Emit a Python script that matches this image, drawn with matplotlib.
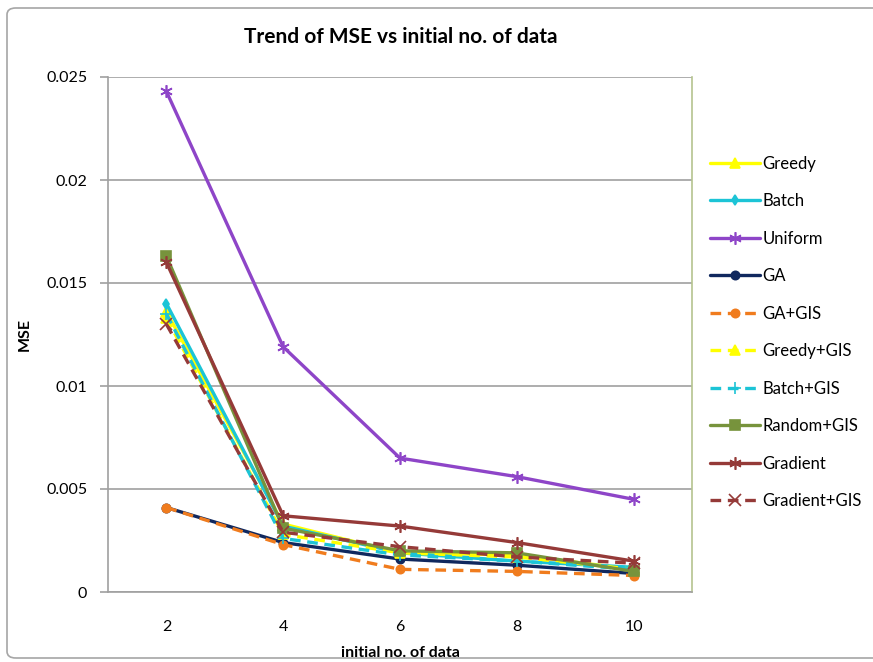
import matplotlib
matplotlib.use("Agg")
import matplotlib.pyplot as plt
from matplotlib.patches import FancyBboxPatch

plt.rcParams['font.family'] = ['Lato', 'DejaVu Sans']

# initial number of data points
x_values = [2, 4, 6, 8, 10]
x_ticklabels = ["2", "4", "6", "8", "10"]

# MSE per method
greedy = [0.0136, 0.0033, 0.0019, 0.0018, 0.0011]
batch = [0.0140, 0.0032, 0.0019, 0.0015, 0.0012]
uniform = [0.0243, 0.0119, 0.0065, 0.0056, 0.0045]
ga = [0.0041, 0.0024, 0.0016, 0.0013, 0.0009]
ga_gis = [0.0041, 0.0023, 0.0011, 0.0010, 0.0008]
greedy_gis = [0.0133, 0.0028, 0.0019, 0.0017, 0.0011]
batch_gis = [0.0135, 0.0026, 0.0018, 0.0015, 0.0011]
random_gis = [0.0163, 0.0031, 0.0020, 0.0019, 0.0010]
gradient = [0.0160, 0.0037, 0.0032, 0.0024, 0.0015]
gradient_gis = [0.0130, 0.0029, 0.0022, 0.0017, 0.0014]

series = [
    ("Greedy", greedy, "#FFFF00", "-", "^"),
    ("Batch", batch, "#1CC4D6", "-", "d"),
    ("Uniform", uniform, "#8E45C8", "-", (6, 2, 0)),
    ("GA", ga, "#10285E", "-", "o"),
    ("GA+GIS", ga_gis, "#F07C1E", "--", "o"),
    ("Greedy+GIS", greedy_gis, "#FFFF00", "--", "^"),
    ("Batch+GIS", batch_gis, "#1CC4D6", "--", "+"),
    ("Random+GIS", random_gis, "#77933C", "-", "s"),
    ("Gradient", gradient, "#953A38", "-", (6, 2, 0)),
    ("Gradient+GIS", gradient_gis, "#953A38", "--", "x"),
]

W, H = 873, 662
fig = plt.figure(figsize=(W / 100, H / 100), dpi=100)
fig.patch.set_facecolor("white")

# outer chart frame
frame = FancyBboxPatch((7 / W, 4 / H), (W + 20 - 7) / W, (654 - 4) / H,
                       boxstyle="round,pad=0,rounding_size=0.01",
                       transform=fig.transFigure, facecolor="none",
                       edgecolor="#A6A6A6", linewidth=1.2, zorder=-1)
fig.patches.append(frame)

left, right, top, bottom = 108, 692, 77, 592
ax = fig.add_axes([left / W, 1 - bottom / H, (right - left) / W, (bottom - top) / H])
ax.set_facecolor("none")

for name, vals, color, ls, mk in series:
    kw = dict(color=color, linewidth=2.4, marker=mk, markersize=7,
              markerfacecolor=color, markeredgecolor=color, markeredgewidth=1.2,
              label=name, solid_capstyle="round")
    if mk in ("+", "x", (6, 2, 0)):
        kw["markersize"] = 9
    if mk == "o":
        kw["markersize"] = 6
    if mk == "d":
        kw["markersize"] = 5
    if ls == "--":
        ax.plot(x_values, vals, linestyle="--", dashes=(3.2, 2.0), **kw)
    else:
        ax.plot(x_values, vals, **kw)

ax.set_xlim(1, 11)
ax.set_ylim(0, 0.025)
ax.set_yticks([0, 0.005, 0.01, 0.015, 0.02, 0.025])
ax.set_yticklabels(["0", "0.005", "0.01", "0.015", "0.02", "0.025"])
ax.set_xticks(x_values)
ax.set_xticklabels(x_ticklabels)
ax.grid(axis="y", color="#A0A0A0", linewidth=1.2)
ax.set_axisbelow(True)

ax.spines["top"].set_visible(False)
ax.spines["left"].set_color("#A0A0A0")
ax.spines["bottom"].set_color("#A0A0A0")
ax.spines["right"].set_color("#B5C48F")
for s in ("left", "bottom", "right"):
    ax.spines[s].set_linewidth(1.2)

ax.tick_params(axis="y", length=6, width=1.2, color="#A0A0A0", labelsize=11.5, pad=9)
ax.tick_params(axis="x", length=0, labelsize=11.5, pad=20)

ax.set_xlabel("initial no. of data", fontsize=11.5, fontweight="bold", labelpad=9)
ax.set_ylabel("MSE", fontsize=11.5, fontweight="bold", labelpad=10)
fig.text(401 / W, 1 - 37 / H, "Trend of MSE vs initial no. of data",
         ha="center", va="center", fontsize=15, fontweight="bold")

ax.legend(loc="upper left", bbox_to_anchor=(703 / W, 1 - 149 / H),
          bbox_transform=fig.transFigure, frameon=False, fontsize=12,
          handlelength=3.0, handletextpad=0.15, labelspacing=1.29,
          borderaxespad=0)

fig.savefig("out.png", dpi=100, facecolor="white")
